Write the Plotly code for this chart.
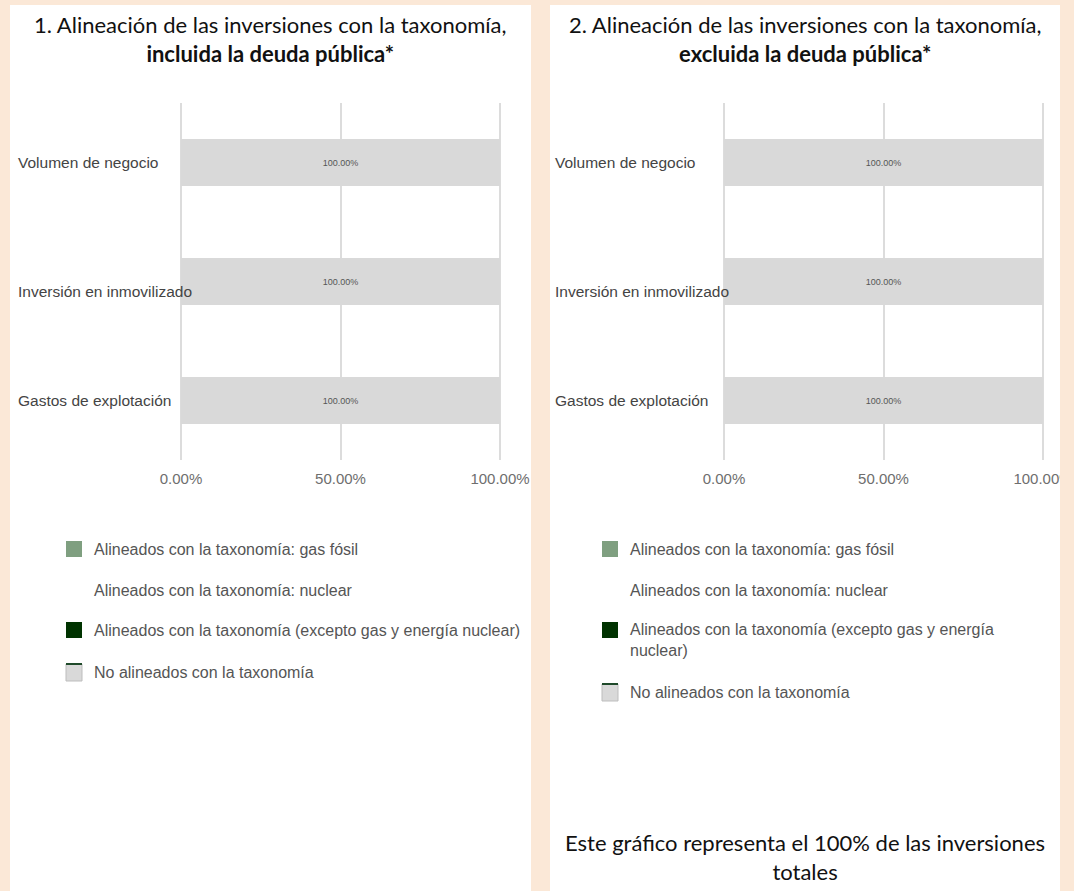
import plotly.graph_objects as go

# ---------------- data ----------------
categories = ["Volumen de negocio", "Inversión en inmovilizado", "Gastos de explotación"]
series_names = [
    "Alineados con la taxonomía: gas fósil",
    "Alineados con la taxonomía: nuclear",
    "Alineados con la taxonomía (excepto gas y energía nuclear)",
    "No alineados con la taxonomía",
]
# chart 1: incluida la deuda pública
gas_fosil_incl = [0, 0, 0]
nuclear_incl = [0, 0, 0]
excepto_incl = [0, 0, 0]
no_alineados_incl = [100, 100, 100]
# chart 2: excluida la deuda pública
gas_fosil_excl = [0, 0, 0]
nuclear_excl = [0, 0, 0]
excepto_excl = [0, 0, 0]
no_alineados_excl = [100, 100, 100]

tick_vals = [0, 50, 100]
tick_labels = ["0.00%", "50.00%", "100.00%"]

title_1 = "1. Alineación de las inversiones con la taxonomía,<br><b>incluida la deuda pública*</b>"
title_2 = "2. Alineación de las inversiones con la taxonomía,<br><b>excluida la deuda pública*</b>"
footnote = "Este gráfico representa el 100% de las inversiones<br>totales"

# ---------------- styles ----------------
series_colors = ["#7F9F80", "#FFFFFF", "#003300", "#D9D9D9"]
PEACH = "#FBE8D7"
W, H = 1074, 891

def px(x):
    return x / W

def py(y):
    return 1 - y / H

fig = go.Figure()

datasets = [
    [gas_fosil_incl, nuclear_incl, excepto_incl, no_alineados_incl],
    [gas_fosil_excl, nuclear_excl, excepto_excl, no_alineados_excl],
]
axes = [("x", "y"), ("x2", "y2")]

for (xa, ya), data in zip(axes, datasets):
    for name, vals, col in zip(series_names, data, series_colors):
        fig.add_trace(go.Bar(
            y=categories, x=vals, name=name, orientation="h",
            marker=dict(color=col, line=dict(width=0)),
            text=[f"{v:.2f}%" if v > 0 else "" for v in vals],
            textposition="inside", insidetextanchor="middle",
            textfont=dict(size=9, color="#555555", family="Liberation Sans"),
            width=0.395, xaxis=xa, yaxis=ya, showlegend=False,
            hoverinfo="skip",
        ))

# small padding on the value range so that gridlines at 0% and 100% are drawn
PAD = 0.35
UNIT = 319 / 100.0

def xdom(left):
    return [px(left - PAD * UNIT), px(left + 319 + PAD * UNIT)]

ydom = [py(460), py(103)]
xcommon = dict(range=[-PAD, 100 + PAD], tickvals=tick_vals, ticktext=tick_labels,
               showgrid=True, gridcolor="#DCDCDC", gridwidth=2, zeroline=False,
               showline=False, ticks="", automargin=False, ticklabelstandoff=8,
               tickfont=dict(size=15, color="#6E6E6E", family="Liberation Sans"),
               fixedrange=True)
ycommon = dict(categoryorder="array", categoryarray=categories,
               showticklabels=False, showgrid=False, zeroline=False, ticks="",
               automargin=False, range=[2.5, -0.5], autorange=False, fixedrange=True)

fig.update_layout(
    width=W, height=H, margin=dict(l=0, r=0, t=0, b=0, autoexpand=False),
    paper_bgcolor=PEACH, plot_bgcolor="rgba(0,0,0,0)",
    barmode="stack", showlegend=False,
    xaxis=dict(domain=xdom(181), anchor="y", **xcommon),
    yaxis=dict(domain=ydom, anchor="x", **ycommon),
    xaxis2=dict(domain=xdom(724), anchor="y2", **xcommon),
    yaxis2=dict(domain=ydom, anchor="x2", **ycommon),
)

shapes = []
annotations = []
# white panels
for x0, x1 in [(10, 531), (550, 1060)]:
    shapes.append(dict(type="rect", xref="paper", yref="paper",
                       x0=px(x0), x1=px(x1), y0=0, y1=py(5),
                       fillcolor="white", line=dict(width=0), layer="below"))
# clip strip at right edge (covers overflowing tick label)
shapes.append(dict(type="rect", xref="paper", yref="paper",
                   x0=px(1060), x1=1, y0=0, y1=1,
                   fillcolor=PEACH, line=dict(width=0), layer="above"))

TITLE_FONT = dict(family="Lato", size=22, color="#111111")

# titles
for cx, t in [(270.5, title_1), (805, title_2)]:
    annotations.append(dict(text=t, xref="paper", yref="paper", x=px(cx), y=py(39.5),
                            xanchor="center", yanchor="middle", showarrow=False,
                            font=TITLE_FONT))

# category labels
yshifts = [0, -10, 0]
for yref_ax, lx in [("y", 16), ("y2", 553)]:
    for cat, ys in zip(categories, yshifts):
        annotations.append(dict(text=cat, xref="paper", yref=yref_ax, x=px(lx), y=cat,
                                xanchor="left", yanchor="middle", showarrow=False,
                                yshift=ys,
                                font=dict(family="Liberation Sans", size=15.5, color="#444444")))

# legends
legend_specs = [
    (66, [549, 590, 630, 672], series_names, [549, 590, 630, 672]),
    (602, [549, 590, 640, 692], [series_names[0], series_names[1],
                                  "Alineados con la taxonomía (excepto gas y energía<br>nuclear)",
                                  series_names[3]], [549, 590, 630, 692]),
]
for sx, ys_list, labels, sq_list in legend_specs:
    for i, (yc, lab, col, sq_y) in enumerate(zip(ys_list, labels, series_colors, sq_list)):
        if col != "#FFFFFF":
            if i == 3:
                shapes.append(dict(type="rect", xref="paper", yref="paper",
                                   x0=px(sx), x1=px(sx + 16), y0=py(sq_y + 9), y1=py(sq_y - 8),
                                   fillcolor=col, line=dict(color="#BDBDBD", width=1)))
                shapes.append(dict(type="line", xref="paper", yref="paper",
                                   x0=px(sx), x1=px(sx + 16), y0=py(sq_y - 8), y1=py(sq_y - 8),
                                   line=dict(color="#1F4A2A", width=2)))
            else:
                shapes.append(dict(type="rect", xref="paper", yref="paper",
                                   x0=px(sx), x1=px(sx + 16), y0=py(sq_y + 8), y1=py(sq_y - 8),
                                   fillcolor=col, line=dict(width=0)))
        annotations.append(dict(text=lab, xref="paper", yref="paper", x=px(sx + 26),
                                y=py(yc), xanchor="left", yanchor="middle", align="left",
                                showarrow=False,
                                font=dict(family="Liberation Sans", size=16, color="#555555")))

# footnote
annotations.append(dict(text=footnote, xref="paper", yref="paper", x=px(805), y=py(857),
                        xanchor="center", yanchor="middle", showarrow=False,
                        font=TITLE_FONT))

fig.update_layout(shapes=shapes, annotations=annotations)
fig.write_html("out.html")
